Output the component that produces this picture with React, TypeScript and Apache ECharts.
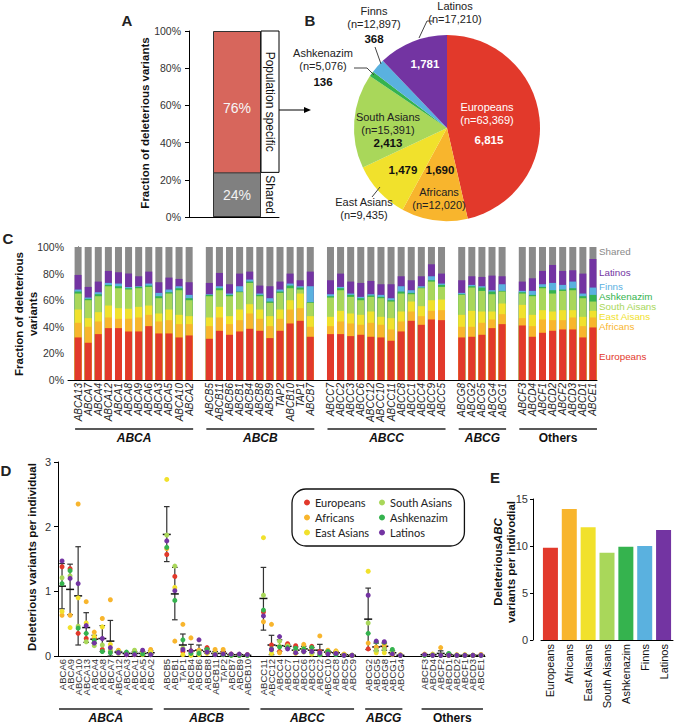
import React, { useEffect, useRef } from 'react';
import * as echarts from 'echarts';

const FONT = '"Liberation Sans", Arial, Helvetica, sans-serif';
const fnt = (size: number, weight = 'normal', style = 'normal', family = FONT) => `${style} ${weight} ${size}px ${family}`;

// ---------- palette ----------
const C_EUR = '#e2392b';
const C_AFR = '#f8b52d';
const C_EAS = '#f1e12c';
const C_SAS = '#a9d75a';
const C_ASH = '#35b34e';
const C_FIN = '#5ab1df';
const C_LAT = '#7334a2';
const C_SHA = '#8a8a8a';

// ---------- Panel A ----------
const aCategories = ['Shared', 'Population specific'];
const aValues = [24, 76];

// ---------- Panel B ----------
const pieNames = ['Europeans', 'Africans', 'East Asians', 'South Asians', 'Ashkenazim', 'Finns', 'Latinos'];
const pieCounts = [6815, 1690, 1479, 2413, 136, 368, 1781];
const pieSampleSizes = ['63,369', '12,020', '9,435', '15,391', '5,076', '12,897', '17,210'];
const pieColors = [C_EUR, C_AFR, C_EAS, C_SAS, C_ASH, C_FIN, C_LAT];

// ---------- Panel C ----------
const cGroupNames = ['ABCA', 'ABCB', 'ABCC', 'ABCG', 'Others'];
const cGenesA = ['ABCA13', 'ABCA7', 'ABCA4', 'ABCA12', 'ABCA1', 'ABCA8', 'ABCA9', 'ABCA6', 'ABCA3', 'ABCA5', 'ABCA10', 'ABCA2'];
const cGenesB = ['ABCB5', 'ABCB11', 'ABCB6', 'ABCB1', 'ABCB4', 'ABCB8', 'ABCB9', 'TAP2', 'ABCB10', 'TAP1', 'ABCB7'];
const cGenesC = ['ABCC7', 'ABCC2', 'ABCC3', 'ABCC6', 'ABCC12', 'ABCC10', 'ABCC11', 'ABCC8', 'ABCC1', 'ABCC4', 'ABCC9', 'ABCC5'];
const cGenesG = ['ABCG8', 'ABCG2', 'ABCG5', 'ABCG4', 'ABCG1'];
const cGenesO = ['ABCF3', 'ABCD4', 'ABCF1', 'ABCD2', 'ABCF2', 'ABCD3', 'ABCD1', 'ABCE1'];
// cumulative tops (%) of each stacked segment, gene order as above
const cEurTop = [32, 28, 34.5, 39, 39, 36.5, 36.5, 40.5, 35, 35, 32, 33.5, 31, 37, 34, 36.5, 38.5, 37, 31.5, 37, 42.5, 44.5, 32.5, 34.5, 34.5, 33, 34, 32.5, 32, 29.5, 36.5, 44.5, 41.5, 45.5, 45, 32, 32.5, 34, 39, 42, 41, 32.5, 35.5, 37, 38, 38, 32, 39.5];
const cAfrTop = [43, 40, 44, 47, 46, 46, 47, 49, 44, 45, 42, 42, 40.5, 47, 42, 45, 50, 46, 40.5, 46, 53, 54, 40, 40.5, 44, 42.5, 41.5, 43, 41.5, 38, 44, 51.5, 48, 52, 52.5, 40, 40, 43, 45.5, 49.5, 46.5, 40.5, 45.5, 45, 45, 47, 40.5, 47];
const cEasTop = [53, 46.5, 51, 56, 54, 53.5, 55, 56, 50, 53, 49, 48, 47, 55, 48, 53, 57, 53, 48, 53, 60, 65, 48, 47.5, 52, 50, 49, 51.5, 47.5, 46.5, 51.5, 59, 55.5, 60, 60.5, 49, 52, 51.5, 51.5, 57.5, 56.5, 49, 52.5, 51.5, 52.5, 52.5, 47.5, 52];
const cSasTop = [65, 60, 63, 70.5, 69, 68, 69, 70, 61.5, 65, 67.5, 60, 63, 67.5, 63, 66, 73, 63, 58, 65.5, 69, 68, 58, 62, 67.5, 62.5, 60, 62.5, 61.5, 59, 65, 64.5, 69, 74, 70, 64, 69.5, 67, 64.5, 66.5, 65, 63, 69, 65, 67, 67.5, 61.5, 59];
const cAshTop = [66.5, 61, 64.5, 71.5, 70.5, 69, 70, 71, 63, 66, 69, 61.5, 64, 69, 64, 66.5, 74, 64, 59, 66.5, 71, 69.5, 58.5, 63, 69, 64, 61.5, 63.5, 62.5, 60, 66.5, 65.5, 69.5, 75, 71.5, 64.5, 70.5, 69.5, 66.5, 67, 66, 64, 70, 67.5, 68, 69, 63, 64];
const cFinTop = [68, 62, 66, 73, 72.5, 70, 70.5, 72.5, 65.5, 68, 70.5, 64, 64.5, 70.5, 65, 70.5, 75.5, 65, 61.5, 68, 72.5, 70.5, 70.5, 64.5, 70, 65, 62.5, 64.5, 64, 61.5, 70.5, 67.5, 70.5, 78, 72.5, 65.5, 71.5, 70.5, 67.5, 72, 67, 67, 72, 73, 71.5, 74, 65, 69.5];
const cLatTop = [79, 70, 74, 82, 81, 80, 78, 81.5, 73.5, 77, 76, 73.5, 73, 80.5, 72, 80, 81.5, 71, 70.5, 74, 80, 75, 81.5, 75, 80, 74, 73, 74.5, 72, 72, 78, 75, 78, 87, 80, 75, 78, 77.5, 78.5, 78, 74, 76.5, 82, 86.5, 82, 82.5, 80, 91];
const cLegendNames = ['Shared', 'Latinos', 'Finns', 'Ashkenazim', 'South Aisans', 'East Aisans', 'Africans', 'Europeans'];

// ---------- Panel D ----------
const dGenesA = ['ABCA6', 'ABCA9', 'ABCA10', 'ABCA13', 'ABCA4', 'ABCA8', 'ABCA7', 'ABCA12', 'ABCA3', 'ABCA1', 'ABCA5', 'ABCA2'];
const dGenesB = ['ABCB5', 'ABCB1', 'TAP1', 'ABCB4', 'ABCB6', 'ABCB8', 'ABCB11', 'TAP2', 'ABCB7', 'ABCB9', 'ABCB10'];
const dGenesC = ['ABCC11', 'ABCC12', 'ABCC4', 'ABCC7', 'ABCC1', 'ABCC6', 'ABCC3', 'ABCC2', 'ABCC10', 'ABCC8', 'ABCC5', 'ABCC9'];
const dGenesG = ['ABCG2', 'ABCG5', 'ABCG8', 'ABCG1', 'ABCG4'];
const dGenesO = ['ABCF3', 'ABCD4', 'ABCF2', 'ABCD1', 'ABCD2', 'ABCF1', 'ABCD3', 'ABCE1'];
const dPopNames = ['Europeans', 'Africans', 'East Asians', 'South Asians', 'Ashkenazim', 'Latinos'];
const dEur = [1.38, 1.35, 0.35, 0.27, 0.28, 0.10, 0.07, 0.05, 0.02, 0.03, 0.03, 0.04, 1.57, 1.23, 0.07, 0.08, 0.08, 0.13, 0.03, 0.05, 0.03, 0.02, 0.02, 0.68, 0.17, 0.07, 0.19, 0.16, 0.10, 0.15, 0.07, 0.05, 0.05, 0.02, 0.01, 0.11, 0.13, 0.13, 0.05, 0.01, 0.02, 0.02, 0.01, 0.02, 0.01, 0.01, 0.01, 0.02];
const dAfr = [0.63, 0.63, 2.35, 0.84, 0.37, 0.58, 0.87, 0.09, 0.05, 0.05, 0.05, 0.10, 1.66, 0.23, 0.49, 0.28, 0.09, 0.05, 0.10, 0.10, 0.02, 0.01, 0.01, 0.53, 0.49, 0.05, 0.16, 0.07, 0.18, 0.10, 0.31, 0.09, 0.08, 0.03, 0.01, 0.20, 0.14, 0.17, 0.03, 0.02, 0.03, 0.03, 0.13, 0.01, 0.02, 0.02, 0.01, 0.02];
const dEas = [0.69, 0.44, 0.90, 0.51, 0.30, 0.45, 0.18, 0.07, 0.04, 0.02, 0.02, 0.06, 2.73, 1.06, 0.02, 0.01, 0.02, 0.04, 0.04, 0.02, 0.01, 0.02, 0.01, 1.83, 0.04, 0.15, 0.14, 0.04, 0.12, 0.03, 0.02, 0.04, 0.06, 0.02, 0.01, 1.31, 0.05, 0.05, 0.02, 0.01, 0.01, 0.01, 0.01, 0.01, 0.01, 0.01, 0.01, 0.01];
const dSas = [1.21, 1.24, 0.46, 0.22, 0.16, 0.17, 0.09, 0.04, 0.03, 0.09, 0.04, 0.03, 1.87, 1.39, 0.12, 0.05, 0.06, 0.06, 0.03, 0.03, 0.02, 0.01, 0.01, 0.94, 0.09, 0.23, 0.15, 0.08, 0.06, 0.05, 0.04, 0.06, 0.03, 0.01, 0.01, 0.51, 0.09, 0.11, 0.06, 0.01, 0.01, 0.02, 0.01, 0.01, 0.01, 0.01, 0.01, 0.01];
const dAsh = [1.12, 1.32, 0.43, 0.35, 0.24, 0.07, 0.05, 0.06, 0.06, 0.04, 0.03, 0.02, 1.68, 0.86, 0.25, 0.04, 0.04, 0.10, 0.02, 0.02, 0.01, 0.01, 0.01, 0.71, 0.11, 0.14, 0.13, 0.12, 0.11, 0.13, 0.02, 0.07, 0.02, 0.01, 0.01, 0.35, 0.22, 0.21, 0.10, 0.01, 0.01, 0.01, 0.01, 0.04, 0.01, 0.01, 0.01, 0.01];
const dLat = [1.47, 1.20, 1.12, 0.47, 0.20, 0.27, 0.13, 0.05, 0.02, 0.02, 0.09, 0.02, 1.78, 1.01, 0.10, 0.08, 0.25, 0.06, 0.02, 0.03, 0.03, 0.03, 0.02, 0.62, 0.10, 0.30, 0.11, 0.05, 0.07, 0.07, 0.05, 0.03, 0.04, 0.01, 0.01, 0.94, 0.23, 0.22, 0.03, 0.01, 0.02, 0.01, 0.01, 0.01, 0.01, 0.01, 0.01, 0.01];
const dMean = [1.08, 1.03, 0.93, 0.44, 0.26, 0.27, 0.23, 0.06, 0.04, 0.04, 0.04, 0.05, 1.88, 0.96, 0.17, 0.08, 0.09, 0.07, 0.04, 0.04, 0.02, 0.02, 0.01, 0.89, 0.17, 0.16, 0.15, 0.09, 0.11, 0.09, 0.09, 0.06, 0.05, 0.02, 0.01, 0.57, 0.14, 0.15, 0.05, 0.01, 0.02, 0.02, 0.04, 0.02, 0.01, 0.01, 0.01, 0.01];
const dLow = [0.73, 0.64, 0.17, 0.21, 0.20, 0.07, 0.00, 0.04, 0.02, 0.01, 0.01, 0.02, 1.46, 0.56, 0.00, 0.00, 0.01, 0.04, 0.01, 0.01, 0.01, 0.01, 0.005, 0.40, 0.02, 0.07, 0.12, 0.04, 0.07, 0.05, 0.00, 0.04, 0.03, 0.01, 0.005, 0.10, 0.08, 0.09, 0.02, 0.00, 0.01, 0.01, 0.00, 0.01, 0.00, 0.00, 0.00, 0.00];
const dHigh = [1.43, 1.42, 1.69, 0.67, 0.32, 0.47, 0.55, 0.08, 0.05, 0.07, 0.07, 0.08, 2.31, 1.37, 0.34, 0.18, 0.17, 0.11, 0.07, 0.07, 0.03, 0.03, 0.02, 1.37, 0.32, 0.25, 0.18, 0.14, 0.15, 0.13, 0.18, 0.08, 0.07, 0.03, 0.02, 1.05, 0.20, 0.20, 0.08, 0.02, 0.03, 0.03, 0.08, 0.04, 0.02, 0.02, 0.02, 0.02];

// ---------- Panel E ----------
const eCategories = ['Europeans', 'Africans', 'East Aisans', 'South Aisans', 'Ashkenazim', 'Finns', 'Latinos'];
const eValues = [9.82, 13.93, 11.99, 9.29, 9.93, 10.0, 11.7];
const eColors = [C_EUR, C_AFR, C_EAS, C_SAS, C_ASH, C_FIN, C_LAT];

// ---------- layout helpers ----------
function buildSlots(groups: string[][], gaps: number[]) {
  const slots: number[] = [];
  const names: string[] = [];
  const ranges: [number, number][] = [];
  let s = 0;
  groups.forEach((g, gi) => {
    const start = s;
    g.forEach((n) => { slots.push(s); names.push(n); s++; });
    ranges.push([start, s - 1]);
    if (gi < gaps.length) for (let k = 0; k < gaps[gi]; k++) { names.push(''); s++; }
  });
  return { slots, names, ranges };
}

const cLayout = buildSlots([cGenesA, cGenesB, cGenesC, cGenesG, cGenesO], [1, 1, 1, 1]);
const dLayout = buildSlots([dGenesA, dGenesB, dGenesC, dGenesG, dGenesO], [1, 1, 1, 2]);

function buildOption(): any {
  const axisLineBlack = { show: true, lineStyle: { color: '#000', width: 1 } };
  const cSeriesDefs: [string, number[] | null, string][] = [
    ['Shared', null, C_SHA],
    ['Latinos', cLatTop, C_LAT],
    ['Finns', cFinTop, C_FIN],
    ['Ashkenazim', cAshTop, C_ASH],
    ['South Aisans', cSasTop, C_SAS],
    ['East Aisans', cEasTop, C_EAS],
    ['Africans', cAfrTop, C_AFR],
    ['Europeans', cEurTop, C_EUR],
  ];
  const dVals = [dEur, dAfr, dEas, dSas, dAsh, dLat];
  const dCols = [C_EUR, C_AFR, C_EAS, C_SAS, C_ASH, C_LAT];

  return {
    animation: false,
    backgroundColor: '#fff',
    textStyle: { fontFamily: FONT },
    grid: [
      { left: 189, top: 31, width: 90, height: 186 },
      { left: 68, top: 247, width: 529, height: 133 },
      { left: 58, top: 462, width: 427, height: 194 },
      { left: 541, top: 499, width: 132, height: 141 },
    ],
    xAxis: [
      { gridIndex: 0, type: 'value', min: 0, max: 90, axisLine: axisLineBlack, axisTick: { show: false }, axisLabel: { show: false }, splitLine: { show: false } },
      {
        gridIndex: 1, type: 'value', min: -1, max: 51.4, interval: 1, axisLine: axisLineBlack, axisTick: { show: false }, splitLine: { show: false },
        axisLabel: {
          rotate: 90, margin: 3, fontSize: 10, fontStyle: 'italic', color: '#222', fontFamily: FONT,
          showMinLabel: true, showMaxLabel: true,
          formatter: (v: number) => (Math.abs(v - Math.round(v)) > 1e-6 ? '' : (cLayout.names[Math.round(v)] || '')),
        },
      },
      {
        gridIndex: 2, type: 'category', data: dLayout.names, axisLine: axisLineBlack, axisTick: { show: false },
        axisLabel: { interval: 0, rotate: 90, margin: 3, fontSize: 9.5, color: '#333', fontFamily: FONT },
      },
      {
        gridIndex: 3, type: 'category', data: eCategories, axisLine: axisLineBlack, axisTick: { show: false },
        axisLabel: { interval: 0, rotate: 90, margin: 4, fontSize: 11, color: '#111', fontFamily: FONT },
      },
    ],
    yAxis: [
      { gridIndex: 0, type: 'value', min: 0, max: 100, interval: 20, axisLine: axisLineBlack, axisTick: { show: true, length: 4, lineStyle: { color: '#000' } }, splitLine: { show: false }, axisLabel: { formatter: '{value}%', fontSize: 10.5, color: '#333', margin: 8 } },
      { gridIndex: 1, type: 'value', min: 0, max: 100, interval: 20, axisLine: axisLineBlack, axisTick: { show: false }, splitLine: { show: false }, axisLabel: { formatter: '{value}%', fontSize: 10.5, color: '#333', margin: 4 } },
      { gridIndex: 2, type: 'value', min: 0, max: 3, interval: 1, axisLine: axisLineBlack, axisTick: { show: true, length: 4, lineStyle: { color: '#000' } }, splitLine: { show: false }, axisLabel: { fontSize: 11, color: '#333', margin: 7 } },
      { gridIndex: 3, type: 'value', min: 0, max: 15, interval: 5, offset: 8, axisLine: axisLineBlack, axisTick: { show: true, length: 3, lineStyle: { color: '#000' } }, splitLine: { show: false }, axisLabel: { fontSize: 11, color: '#333', margin: 5 } },
    ],
    legend: {
      data: dPopNames, orient: 'vertical', left: 292, top: 489, height: 45, itemGap: 4,
      icon: 'circle', itemWidth: 6, itemHeight: 6, padding: [8, 12, 8, 12],
      borderColor: '#111', borderWidth: 1.3, borderRadius: 14, backgroundColor: '#fff',
      selectedMode: false,
      textStyle: { fontFamily: 'Lato, "Liberation Sans", sans-serif', fontSize: 11, color: '#222', lineHeight: 11, width: 60, overflow: 'none' },
    },
    series: [
      // D scatter first (legend source)
      ...dPopNames.map((n, p) => ({
        type: 'scatter', name: n, xAxisIndex: 2, yAxisIndex: 2, symbolSize: 5, z: 4,
        itemStyle: { color: dCols[p], opacity: 1 },
        data: dLayout.slots.map((s, i) => [s, dVals[p][i]]),
        silent: true,
      })),
      {
        type: 'custom', name: 'errors', xAxisIndex: 2, yAxisIndex: 2, z: 3, silent: true,
        data: dLayout.slots.map((s, i) => [s, dLow[i], dHigh[i], dMean[i]]),
        encode: { x: 0, y: [1, 2, 3] },
        renderItem: (params: any, api: any) => {
          const x = api.value(0);
          const lo = api.coord([x, api.value(1)]);
          const hi = api.coord([x, api.value(2)]);
          const m = api.coord([x, api.value(3)]);
          const cap = 2.8;
          const mw = 4;
          const st = { stroke: '#333', lineWidth: 1.2 };
          return {
            type: 'group',
            children: [
              { type: 'line', shape: { x1: lo[0], y1: lo[1], x2: hi[0], y2: hi[1] }, style: st },
              { type: 'line', shape: { x1: hi[0] - cap, y1: hi[1], x2: hi[0] + cap, y2: hi[1] }, style: st },
              { type: 'line', shape: { x1: lo[0] - cap, y1: lo[1], x2: lo[0] + cap, y2: lo[1] }, style: st },
              { type: 'line', shape: { x1: m[0] - mw, y1: m[1], x2: m[0] + mw, y2: m[1] }, style: { stroke: '#111', lineWidth: 1.5 } },
            ],
          };
        },
      },
      // Panel A: population-specific bar spans the full column, shared bar drawn over it
      {
        type: 'bar', name: aCategories[1], xAxisIndex: 0, yAxisIndex: 0, barWidth: 48, barGap: '-100%',
        data: [[48, aValues[0] + aValues[1]]], silent: true,
        itemStyle: { color: '#d7665c', borderColor: '#333', borderWidth: 1 },
      },
      {
        type: 'bar', name: aCategories[0], xAxisIndex: 0, yAxisIndex: 0, barWidth: 48, barGap: '-100%',
        data: [[48, aValues[0]]], silent: true,
        itemStyle: { color: '#808080', borderColor: '#333', borderWidth: 1 },
        label: { show: true, position: 'inside', formatter: () => aValues[0] + '%', color: '#f2f2f2', fontSize: 14, fontFamily: FONT },
      },
      // Panel C (overlapping cumulative bars)
      ...cSeriesDefs.map(([n, tops, col]) => ({
        type: 'bar', name: 'C ' + n, xAxisIndex: 1, yAxisIndex: 1, barWidth: 7, barGap: '-100%', silent: true,
        itemStyle: { color: col },
        data: cLayout.slots.map((s, i) => [s, tops ? tops[i] : 100]),
      })),
      // Panel E
      {
        type: 'bar', name: 'E', xAxisIndex: 3, yAxisIndex: 3, barWidth: 15, silent: true,
        data: eValues.map((v, i) => ({ value: v, itemStyle: { color: eColors[i] } })),
      },
      // Panel B
      {
        type: 'pie', name: 'B', center: [447, 128], radius: 93, startAngle: 90, clockwise: true, silent: true,
        label: { show: false }, labelLine: { show: false },
        data: pieNames.map((n, i) => ({ name: n, value: pieCounts[i], itemStyle: { color: pieColors[i] } })),
      },
    ],
  };
}

function text(t: string, x: number, y: number, font: string, opts: any = {}) {
  return {
    type: 'text', x, y, rotation: opts.rotation || 0, z: 100, silent: true,
    style: {
      text: t, x: 0, y: 0, fill: opts.fill || '#222', font,
      textAlign: opts.align || 'center', textVerticalAlign: 'middle', verticalAlign: 'middle',
      lineHeight: opts.lineHeight,
    },
  };
}

function buildGraphics(chart: any): any[] {
  const g: any[] = [];
  const bold15 = fnt(15, 'bold');
  // Panel letters
  g.push(text('A', 127, 20, bold15), text('B', 310, 20, bold15), text('C', 8, 238, bold15), text('D', 6, 470, bold15), text('E', 495, 477, bold15));

  // Panel A
  g.push(text('Fraction of deleterious variants', 145, 123, fnt(11.5, 'bold'), { rotation: Math.PI / 2, fill: '#111' }));
  const yTop = chart.convertToPixel({ yAxisIndex: 0 }, aValues[0] + aValues[1]);
  const ySplit = chart.convertToPixel({ yAxisIndex: 0 }, aValues[0]);
  const yBase = chart.convertToPixel({ yAxisIndex: 0 }, 0);
  const barX = chart.convertToPixel({ xAxisIndex: 0 }, 48);
  g.push(text(aValues[1] + '%', barX, (yTop + ySplit) / 2 + 6, fnt(14), { fill: '#f6f6f6' }));
  g.push({ type: 'rect', z: 90, shape: { x: 261, y: yTop, width: 18, height: ySplit - yTop }, style: { fill: '#fff', stroke: '#000', lineWidth: 1 } });
  g.push(text(aCategories[1], 270, (yTop + ySplit) / 2, fnt(12), { rotation: -Math.PI / 2, fill: '#111' }));
  g.push(text(aCategories[0], 270, (ySplit + yBase) / 2, fnt(12), { rotation: -Math.PI / 2, fill: '#111' }));
  // arrow A -> B
  g.push({ type: 'line', z: 90, shape: { x1: 279, y1: 110, x2: 306, y2: 110 }, style: { stroke: '#000', lineWidth: 1 } });
  g.push({ type: 'polygon', z: 90, shape: { points: [[304, 107], [311, 110], [304, 113]] }, style: { fill: '#000' } });

  // Panel B labels: [nameX, nameY, countX, countY, nameColor, countColor]
  const pieLabelPos: [number, number, number, number, string, string][] = [
    [487, 107, 489, 140, '#fff', '#fff'],
    [439, 192, 440, 170, '#222', '#111'],
    [364, 202, 403, 170, '#222', '#111'],
    [388, 117, 388, 143, '#222', '#111'],
    [323, 53, 323, 82, '#222', '#111'],
    [374, 11, 374, 39, '#222', '#111'],
    [455, 6, 425, 64, '#222', '#fff'],
  ];
  pieNames.forEach((n, i) => {
    const [nx, ny, cx, cy, nc, cc] = pieLabelPos[i];
    g.push(text(n, nx, ny, fnt(11), { fill: nc }));
    g.push(text(`(n=${pieSampleSizes[i]})`, nx, ny + 13, fnt(11), { fill: nc }));
    g.push(text(pieCounts[i].toLocaleString('en-US'), cx, cy, fnt(11.5, 'bold'), { fill: cc }));
  });
  const leader = (pts: number[][]) => ({ type: 'polyline', z: 95, shape: { points: pts }, style: { stroke: '#444', lineWidth: 1, fill: null } });
  g.push(leader([[419, 38], [427, 21], [433, 21]]));
  g.push(leader([[375, 47], [381, 64]]));
  g.push(leader([[354, 68], [367, 68], [374, 75]]));
  g.push(leader([[372, 197], [380, 187]]));

  // Panel C
  g.push(text('Fraction of deleterious\nvariants', 26, 314, fnt(11.5, 'bold'), { rotation: Math.PI / 2, fill: '#111', lineHeight: 14 }));
  const cLegendY = [251, 272, 286, 296, 306, 316, 326, 356];
  const cLegendCol = [C_SHA, C_LAT, C_FIN, C_ASH, C_SAS, C_EAS, C_AFR, C_EUR];
  cLegendNames.forEach((n, i) => g.push(text(n, 599, cLegendY[i], fnt(9.8), { align: 'left', fill: cLegendCol[i] })));
  cLayout.ranges.forEach(([s0, s1], gi) => {
    const x0 = chart.convertToPixel({ xAxisIndex: 1 }, s0) - 3;
    const x1 = chart.convertToPixel({ xAxisIndex: 1 }, s1) + 4;
    g.push({ type: 'line', z: 90, shape: { x1: x0, y1: 429, x2: x1, y2: 429 }, style: { stroke: '#222', lineWidth: 1.5 } });
    const name = cGroupNames[gi];
    g.push(text(name, (x0 + x1) / 2, 438, fnt(12, 'bold', name === 'Others' ? 'normal' : 'italic'), { fill: '#111' }));
  });

  // Panel D
  g.push(text('Deleterious variants per individual', 32, 557, fnt(11.5, 'bold'), { rotation: Math.PI / 2, fill: '#111' }));
  dLayout.ranges.forEach(([s0, s1], gi) => {
    const x0 = chart.convertToPixel({ xAxisIndex: 2 }, s0) - 3;
    const x1 = chart.convertToPixel({ xAxisIndex: 2 }, s1) + 2;
    g.push({ type: 'line', z: 90, shape: { x1: x0, y1: 709, x2: x1, y2: 709 }, style: { stroke: '#222', lineWidth: 1.5 } });
    const name = cGroupNames[gi];
    g.push(text(name, (x0 + x1) / 2, 718, fnt(12, 'bold', name === 'Others' ? 'normal' : 'italic'), { fill: '#111' }));
  });

  // Panel E
  g.push({
    type: 'text', x: 504, y: 562, rotation: Math.PI / 2, z: 100, silent: true,
    style: {
      text: '{b|Deleterious}{bi|ABC}\n{b|variants per indivodial}', x: 0, y: 0,
      textAlign: 'center', textVerticalAlign: 'middle', verticalAlign: 'middle',
      rich: {
        b: { font: fnt(11.5, 'bold'), fill: '#111', lineHeight: 13 },
        bi: { font: fnt(11.5, 'bold', 'italic'), fill: '#111', lineHeight: 13 },
      },
    },
  });
  return g;
}

export default function App() {
  const ref = useRef<HTMLDivElement>(null);
  useEffect(() => {
    const el = ref.current!;
    const chart = echarts.init(el, undefined, { renderer: 'svg', width: 677, height: 727 });
    chart.setOption(buildOption());
    chart.setOption({ graphic: buildGraphics(chart) });
    return () => chart.dispose();
  }, []);
  return <div ref={ref} style={{ position: 'fixed', left: 0, top: 0, width: 677, height: 727, background: '#fff' }} />;
}
